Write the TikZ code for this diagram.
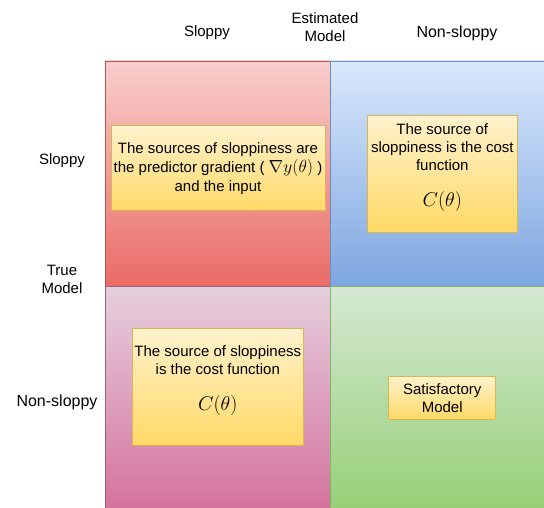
\RequirePackage{fix-cm}
\documentclass[tikz,border=0pt]{standalone}
\usepackage[no-math]{fontspec}
\setmainfont{Liberation Sans}
\usepackage{tikz}

\definecolor{redtop}{HTML}{F8CECC}
\definecolor{redbot}{HTML}{EA6B66}
\definecolor{redline}{HTML}{B85450}
\definecolor{bluetop}{HTML}{DAE8FC}
\definecolor{bluebot}{HTML}{7EA6E0}
\definecolor{blueline}{HTML}{6C8EBF}
\definecolor{pinktop}{HTML}{E6D0DE}
\definecolor{pinkbot}{HTML}{D5739D}
\definecolor{pinkline}{HTML}{996185}
\definecolor{greentop}{HTML}{D5E8D4}
\definecolor{greenbot}{HTML}{97D077}
\definecolor{greenline}{HTML}{82B366}
\definecolor{notetop}{HTML}{FFF2CC}
\definecolor{notebot}{HTML}{FFD966}
\definecolor{noteline}{HTML}{D6B656}

\newcommand{\bigmath}[2][20]{{\fontsize{#1}{18}\selectfont$#2$}}

\begin{document}
\begin{tikzpicture}[x=1pt, y=-1pt,
  every node/.style={outer sep=0pt, font=\fontsize{15}{18}\selectfont, align=center},
  quad/.style={anchor=north west, inner sep=0pt, draw=#1line, line width=0.8pt,
    top color=#1top, bottom color=#1bot},
  note/.style={inner sep=0pt, draw=noteline, line width=0.8pt,
    top color=notetop, bottom color=notebot},
  bigtext/.style={font=\fontsize{16}{18}\selectfont}]
\useasboundingbox (0,0) rectangle (544,508);

% quadrants
\node[quad=red, minimum width=225, minimum height=225] (ss) at (105,61) {};
\node[quad=blue, minimum width=214, minimum height=225] (sn) at (330,61) {};
\node[quad=pink, minimum width=225, minimum height=222] (ns) at (105,286) {};
\node[quad=green, minimum width=214, minimum height=222] (nn) at (330,286) {};

% notes
\node[note, minimum width=214, minimum height=85, font=\fontsize{15}{19}\selectfont] (note1) at (218,168.3)
  {The sources of sloppiness are\\the predictor gradient ( \bigmath[17.5]{\nabla y(\theta)} )\\and the input};
\node[note, minimum width=150, minimum height=117] (note2) at (442.3,173.7)
  {The source of\\sloppiness is the cost\\function\\[18pt]\bigmath{C(\theta)}\\\mbox{}};
\node[note, minimum width=171, minimum height=117] (note3) at (217.8,387.3)
  {The source of sloppiness\\is the cost function\\[18pt]\bigmath{C(\theta)}\\\mbox{}};
\node[note, minimum width=107, minimum height=43] (note4) at (442.2,398)
  {Satisfactory\\Model};

% headers
\node (estimated) at (325,27) {Estimated\\Model};
\node (colsloppy) at (207,33) {Sloppy};
\node[bigtext] (colnon) at (457,33) {Non-sloppy};
\node (truemodel) at (62,279) {True\\Model};
\node (rowsloppy) at (62,161) {Sloppy};
\node[bigtext] (rownon) at (57,402) {Non-sloppy};
\end{tikzpicture}
\end{document}
